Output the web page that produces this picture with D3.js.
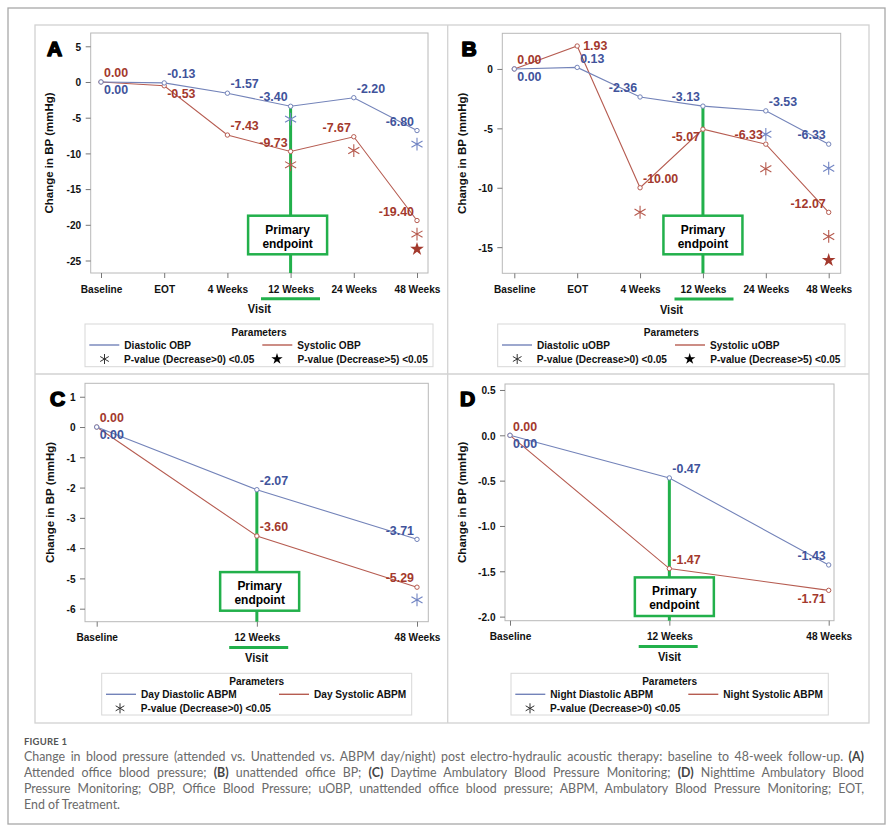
<!DOCTYPE html>
<html>
<head>
<meta charset="utf-8">
<script src="https://cdn.jsdelivr.net/npm/d3@7"></script>
<style>
  body { margin: 0; background: #fff; }
  #wrap { position: relative; width: 891px; height: 829px; }
  #wrap svg { position: absolute; left: 0; top: 0; }
  #cap { position: absolute; left: 24px; top: 735px; width: 840px; font-family: Lato, "Open Sans", sans-serif; color: #6a6a6a; }
  #cap .fig { font-size: 9.5px; font-weight: 700; color: #555; line-height: 14px; height: 14px; letter-spacing: 0.2px; }
  #cap .ln { font-size: 12.4px; line-height: 16px; height: 16px; text-align: justify; text-align-last: justify; }
  #cap .ln.last { text-align-last: left; }
  #cap b { color: #444; }
</style>
</head>
<body>
<div id="wrap"></div>
<script>
// ---- data ----
const visitsOBP = ["Baseline", "EOT", "4 Weeks", "12 Weeks", "24 Weeks", "48 Weeks"];
const visitsABPM = ["Baseline", "12 Weeks", "48 Weeks"];

const diastolicOBP = [0.00, -0.13, -1.57, -3.40, -2.20, -6.80];
const systolicOBP = [0.00, -0.53, -7.43, -9.73, -7.67, -19.40];
const diastolicUOBP = [0.00, 0.13, -2.36, -3.13, -3.53, -6.33];
const systolicUOBP = [0.00, 1.93, -10.00, -5.07, -6.33, -12.07];
const dayDiastolic = [0.00, -2.07, -3.71];
const daySystolic = [0.00, -3.60, -5.29];
const nightDiastolic = [0.00, -0.47, -1.43];
const nightSystolic = [0.00, -1.47, -1.71];

// significance markers: [visit, y value, series, symbol]
const sigA = [["12 Weeks", -5.2, "dia", "ast"], ["12 Weeks", -11.6, "sys", "ast"], ["24 Weeks", -9.6, "sys", "ast"],
              ["48 Weeks", -8.7, "dia", "ast"], ["48 Weeks", -21.3, "sys", "ast"], ["48 Weeks", -23.4, "sys", "star"]];
const sigB = [["4 Weeks", -12.06, "sys", "ast"], ["24 Weeks", -5.5, "dia", "ast"], ["24 Weeks", -8.4, "sys", "ast"],
              ["48 Weeks", -8.36, "dia", "ast"], ["48 Weeks", -14.1, "sys", "ast"], ["48 Weeks", -16.1, "sys", "star"]];
const sigC = [["48 Weeks", -5.71, "dia", "ast"]];
const sigD = [];

const ticksA = [5, 0, -5, -10, -15, -20, -25];
const ticksB = [0, -5, -10, -15];
const ticksC = [1, 0, -1, -2, -3, -4, -5, -6];
const ticksD = [0.5, 0.0, -0.5, -1.0, -1.5, -2.0];

const legendA = ["Diastolic OBP", "Systolic OBP"];
const legendB = ["Diastolic uOBP", "Systolic uOBP"];
const legendC = ["Day Diastolic ABPM", "Day Systolic ABPM"];
const legendD = ["Night Diastolic ABPM", "Night Systolic ABPM"];
const legendSig = ["P-value (Decrease>0) <0.05", "P-value (Decrease>5) <0.05"];

// label placement around each point (style only)
const placeA = { dia: ["se", "ne", "ne", "nw", "ne", "nw"], sys: ["ne", "se", "ne", "nw", "nw", "nw"] };
const placeB = { dia: ["se", "ne", "nw", "nw", "ne", "nw"], sys: ["ne", "e", "ne", "sw", "nw", "nw"] };
const placeC = { dia: ["se", "ne", "nw"], sys: ["ne", "ne", "nw"] };
const placeD = { dia: ["se", "ne", "nw"], sys: ["ne", "ne", "sw"] };

// ---- style ----
const SX = 0.92;                 // horizontal squeeze of the source image
const FONT = "'Liberation Sans', Arial, sans-serif";
const col = {
  dia: { line: "#7383b9", text: "#41539b", mark: "#7285c3" },
  sys: { line: "#b65c51", text: "#a3392d", mark: "#b65a4e" }
};
const GREEN = "#22b04b";

const svg = d3.select("#wrap").append("svg").attr("width", 891).attr("height", 829);

// figure borders
svg.append("rect").attr("x", 8).attr("y", 8).attr("width", 877).attr("height", 816)
  .attr("fill", "none").attr("stroke", "#a8a8a8").attr("stroke-width", 1.3);
svg.append("rect").attr("x", 35).attr("y", 25).attr("width", 834).attr("height", 698)
  .attr("fill", "none").attr("stroke", "#d2d2d2").attr("stroke-width", 1.3);
svg.append("line").attr("x1", 447.7).attr("x2", 447.7).attr("y1", 25).attr("y2", 723)
  .attr("stroke", "#d2d2d2").attr("stroke-width", 1.3);
svg.append("line").attr("x1", 35).attr("x2", 869).attr("y1", 374).attr("y2", 374)
  .attr("stroke", "#d2d2d2").attr("stroke-width", 1.3);

const panels = [
  { letter: "A", lx: 47, ly: 55.5, titleX: 49, visits: visitsOBP, dia: diastolicOBP, sys: systolicOBP, sig: sigA,
    ticks: ticksA, fmt: d => String(d), place: placeA, legend: legendA, star: true,
    frame: [90.7, 33, 428, 273], xr: [101, 417], yd: [-26.75, 6.86],
    box: { dx: -3, gap: 18.7 }, under: 290.5, legBox: [85, 324, 433, 366.7] },
  { letter: "B", lx: 461.5, ly: 55.7, titleX: 461.7, visits: visitsOBP, dia: diastolicUOBP, sys: systolicUOBP, sig: sigB,
    ticks: ticksB, fmt: d => String(d), place: placeB, legend: legendB, star: true,
    frame: [502.3, 33.3, 840.7, 273.3], xr: [514.3, 828.7], yd: [-17.2, 3.0],
    box: { dx: 0, gap: 19 }, under: 704, legBox: [497.7, 324, 845, 366.7] },
  { letter: "C", lx: 50, ly: 406, titleX: 50, visits: visitsABPM, dia: dayDiastolic, sys: daySystolic, sig: sigC,
    ticks: ticksC, fmt: d => String(d), place: placeC, legend: legendC, star: false,
    frame: [85, 383.3, 428.3, 621.7], xr: [96.7, 417], yd: [-6.43, 1.444],
    box: { dx: 2.8, gap: 11 }, under: 258.7, legBox: [101.7, 673.3, 411.7, 715] },
  { letter: "D", lx: 460, ly: 406, titleX: 461.7, visits: visitsABPM, dia: nightDiastolic, sys: nightSystolic, sig: sigD,
    ticks: ticksD, fmt: d => d.toFixed(1), place: placeD, legend: legendD, star: false,
    frame: [505, 384, 834, 620.7], xr: [510, 828.7], yd: [-2.045, 0.566],
    box: { dx: 5, gap: 4.7 }, under: 668.2, legBox: [511, 673.3, 828.3, 715] }
];

const offsets = {
  ne: ["start", 3, -9.5], nw: ["end", -3, -9.5],
  se: ["start", 3, 7.5], sw: ["end", -3, 7.5], e: ["start", 6, -1]
};

function squeezed(g, x, y) {
  return g.append("text").attr("transform", `translate(${x},${y}) scale(${SX},1)`)
    .attr("font-family", FONT).attr("dy", "0.35em");
}

function asteriskPath(r) {
  const p = d3.path();
  [90, 30, -30].forEach(a => {
    const t = a * Math.PI / 180;
    p.moveTo(-r * Math.cos(t), -r * Math.sin(t));
    p.lineTo(r * Math.cos(t), r * Math.sin(t));
  });
  return p.toString();
}
const starPath = d3.symbol(d3.symbolStar, 58)();

panels.forEach(P => {
  const [fx0, fy0, fx1, fy1] = P.frame;
  const g = svg.append("g");
  const x = d3.scalePoint().domain(P.visits).range(P.xr);
  const y = d3.scaleLinear().domain(P.yd).range([fy1, fy0]);

  // frame
  g.append("rect").attr("x", fx0).attr("y", fy0).attr("width", fx1 - fx0).attr("height", fy1 - fy0)
    .attr("fill", "none").attr("stroke", "#b8b8b8").attr("stroke-width", 1);

  // axes
  const ya = g.append("g").attr("transform", `translate(${fx0},0)`)
    .call(d3.axisLeft(y).tickValues(P.ticks).tickFormat(P.fmt).tickSize(5).tickPadding(4));
  const xa = g.append("g").attr("transform", `translate(0,${fy1})`)
    .call(d3.axisBottom(x).tickSize(5));
  [ya, xa].forEach(a => {
    a.select(".domain").remove();
    a.selectAll(".tick line").attr("stroke", "#777");
    a.selectAll(".tick text").attr("font-family", FONT).attr("font-size", 11).attr("font-weight", "bold")
      .attr("fill", "#111").attr("transform", `scale(${SX},1)`);
  });
  ya.selectAll(".tick text").attr("dy", "0.35em").attr("x", -9.5 / SX);
  xa.selectAll(".tick text").attr("y", 15.7).attr("dy", "0.35em");

  // axis titles
  g.append("text").attr("transform", `translate(${P.titleX},${(fy0 + fy1) / 2}) rotate(-90)`)
    .attr("text-anchor", "middle").attr("dy", "0.35em").attr("font-family", FONT)
    .attr("font-size", 11.5).attr("font-weight", "bold").attr("fill", "#111").text("Change in BP (mmHg)");
  squeezed(g, (fx0 + fx1) / 2, fy1 + 36).attr("text-anchor", "middle").attr("font-size", 12)
    .attr("font-weight", "bold").attr("fill", "#111").text("Visit");

  // panel letter
  g.append("text").attr("x", P.lx).attr("y", P.ly).attr("font-family", FONT).attr("font-size", 21)
    .attr("font-weight", 900).attr("fill", "#000").attr("stroke", "#000").attr("stroke-width", 1.6)
    .attr("stroke-linejoin", "round").text(P.letter);

  // series lines
  const line = d3.line().x((d, i) => x(P.visits[i])).y(d => y(d));
  ["sys", "dia"].forEach(s => {
    g.append("path").datum(P[s]).attr("d", line).attr("fill", "none")
      .attr("stroke", col[s].line).attr("stroke-width", 1.1);
  });

  // primary endpoint marker
  const x12 = x("12 Weeks");
  g.append("line").attr("x1", x12).attr("x2", x12).attr("y1", y(P.dia[P.visits.indexOf("12 Weeks")])).attr("y2", fy1)
    .attr("stroke", GREEN).attr("stroke-width", 3);
  const bw = 79, bh = 38.6, bx = x12 + P.box.dx - bw / 2, by = fy1 - P.box.gap - bh;
  g.append("rect").attr("x", bx).attr("y", by).attr("width", bw).attr("height", bh)
    .attr("fill", "#fff").attr("stroke", GREEN).attr("stroke-width", 2.5);
  ["Primary", "endpoint"].forEach((t, i) => {
    squeezed(g, bx + bw / 2, by + 13.3 + i * 14).attr("text-anchor", "middle").attr("font-size", 13)
      .attr("font-weight", "bold").attr("fill", "#000").text(t);
  });
  g.append("line").attr("x1", P.under - 29.5).attr("x2", P.under + 29.5)
    .attr("y1", fy1 + 25.8).attr("y2", fy1 + 25.8).attr("stroke", GREEN).attr("stroke-width", 3);

  // point markers
  ["sys", "dia"].forEach(s => {
    g.selectAll(null).data(P[s]).join("circle")
      .attr("cx", (d, i) => x(P.visits[i])).attr("cy", d => y(d)).attr("r", 2.2)
      .attr("fill", "#fff").attr("stroke", col[s].line).attr("stroke-width", 1);
  });

  // significance markers
  g.selectAll(null).data(P.sig).join("path")
    .attr("transform", d => `translate(${x(d[0])},${y(d[1])})`)
    .attr("d", d => d[3] === "star" ? starPath : asteriskPath(6.4))
    .attr("fill", d => d[3] === "star" ? col.sys.text : "none")
    .attr("stroke", d => d[3] === "star" ? "none" : col[d[2]].mark)
    .attr("stroke-width", 1.1);

  // data labels
  ["dia", "sys"].forEach(s => {
    P[s].forEach((v, i) => {
      const [anchor, dx, dy] = offsets[P.place[s][i]];
      squeezed(g, x(P.visits[i]) + dx, y(v) + dy).attr("text-anchor", anchor)
        .attr("font-size", 13.5).attr("font-weight", "bold").attr("fill", col[s].text).text(v.toFixed(2));
    });
  });

  // legend
  const [lx0, ly0, lx1, ly1] = P.legBox;
  const lg = g.append("g");
  lg.append("rect").attr("x", lx0).attr("y", ly0).attr("width", lx1 - lx0).attr("height", ly1 - ly0)
    .attr("fill", "#fff").attr("stroke", "#d8d8d8").attr("stroke-width", 1);
  squeezed(lg, (lx0 + lx1) / 2, ly0 + 8).attr("text-anchor", "middle").attr("font-size", 11)
    .attr("font-weight", "bold").attr("fill", "#111").text("Parameters");
  ["dia", "sys"].forEach((s, i) => {
    const x0 = lx0 + 4.3 + i * 173;
    lg.append("line").attr("x1", x0).attr("x2", x0 + 30).attr("y1", ly0 + 21).attr("y2", ly0 + 21)
      .attr("stroke", col[s].line).attr("stroke-width", 1.4);
    squeezed(lg, x0 + 35, ly0 + 21).attr("font-size", 11).attr("font-weight", "bold")
      .attr("fill", "#111").text(P.legend[i]);
  });
  const sigItems = P.star ? legendSig : legendSig.slice(0, 1);
  sigItems.forEach((t, i) => {
    const mx = lx0 + (P.star ? 19.5 : (P.letter === "C" ? 18.3 : 19)) + i * 172.5;
    lg.append("path").attr("transform", `translate(${mx},${ly0 + 35})`)
      .attr("d", i === 0 ? asteriskPath(5) : d3.symbol(d3.symbolStar, 40)())
      .attr("fill", i === 0 ? "none" : "#000").attr("stroke", i === 0 ? "#333" : "none").attr("stroke-width", 1);
    squeezed(lg, lx0 + 39 + i * 173.5, ly0 + 35).attr("font-size", 11).attr("font-weight", "bold")
      .attr("fill", "#111").text(t);
  });
});

// caption
const captionLines = [
  "Change in blood pressure (attended vs. Unattended vs. ABPM day/night) post electro-hydraulic acoustic therapy: baseline to 48-week follow-up. <b>(A)</b>",
  "Attended office blood pressure; <b>(B)</b> unattended office BP; <b>(C)</b> Daytime Ambulatory Blood Pressure Monitoring; <b>(D)</b> Nighttime Ambulatory Blood",
  "Pressure Monitoring; OBP, Office Blood Pressure; uOBP, unattended office blood pressure; ABPM, Ambulatory Blood Pressure Monitoring; EOT,",
  "End of Treatment."
];
const cap = d3.select("#wrap").append("div").attr("id", "cap");
cap.append("div").attr("class", "fig").text("FIGURE 1");
cap.selectAll("div.ln").data(captionLines).join("div")
  .attr("class", (d, i) => i === captionLines.length - 1 ? "ln last" : "ln")
  .html(d => d);
</script>
</body>
</html>
